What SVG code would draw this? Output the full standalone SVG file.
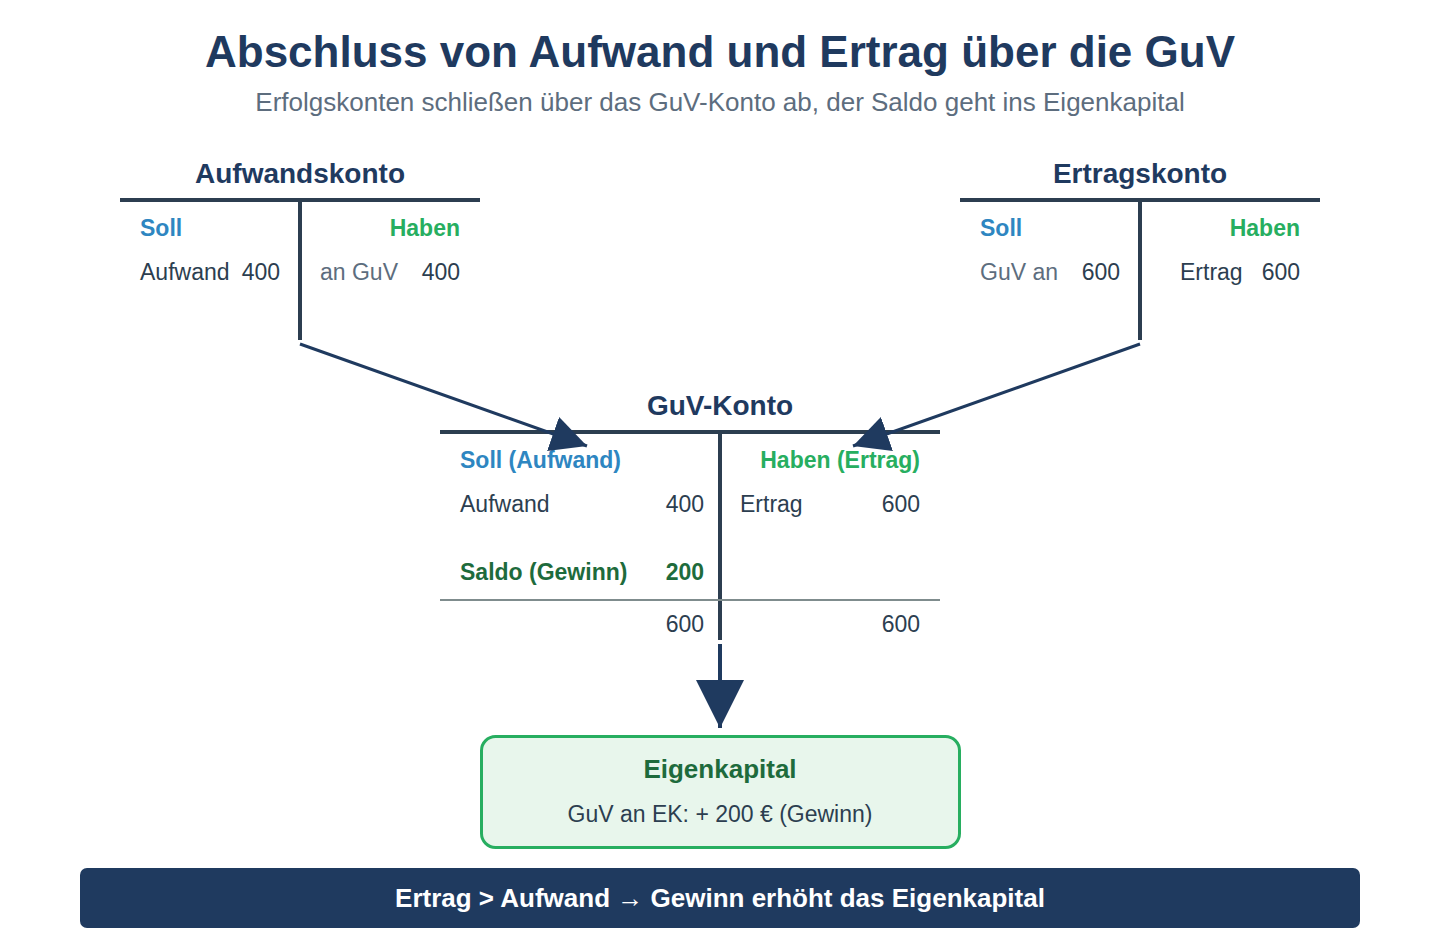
<svg xmlns="http://www.w3.org/2000/svg" width="1440" height="940" viewBox="0 0 1440 940">
<style>
text{font-family:"Liberation Sans",Arial,sans-serif}
.title{font-size:44px;font-weight:bold;fill:#1f3a5f;text-anchor:middle}
.sub{font-size:26px;fill:#5d6d7e;text-anchor:middle}
.acct{font-size:28px;font-weight:bold;fill:#1f3a5f;text-anchor:middle}
.tline{stroke:#2c3e50;stroke-width:4;fill:none}
.soll{font-size:23px;font-weight:bold;fill:#2e86c1}
.haben{font-size:23px;font-weight:bold;fill:#27ae60;text-anchor:end}
.v{font-size:23px;fill:#2c3e50}
.g{font-size:23px;fill:#5d6d7e}
.e{text-anchor:end}
.saldo{font-size:23px;font-weight:bold;fill:#1e6b3c}
.conn{stroke:#1f3a5f;stroke-width:3;fill:none;marker-end:url(#ah)}
</style>
<defs>
<marker id="ah" viewBox="0 0 10 10" refX="10" refY="5" markerWidth="12" markerHeight="12" markerUnits="strokeWidth" orient="auto">
<path d="M0,0 L10,5 L0,10 z" fill="#1f3a5f"/>
</marker>
</defs>
<rect width="1440" height="940" fill="#ffffff"/>
<text class="title" x="720" y="67">Abschluss von Aufwand und Ertrag über die GuV</text>
<text class="sub" x="720" y="111">Erfolgskonten schließen über das GuV-Konto ab, der Saldo geht ins Eigenkapital</text>

<g id="aufwandskonto">
<text class="acct" x="300" y="183">Aufwandskonto</text>
<line class="tline" x1="120" y1="200" x2="480" y2="200"/>
<line class="tline" x1="300" y1="200" x2="300" y2="340"/>
<text class="soll" x="140" y="236">Soll</text>
<text class="haben" x="460" y="236">Haben</text>
<text class="v" x="140" y="280">Aufwand</text>
<text class="v e" x="280" y="280">400</text>
<text class="g" x="320" y="280">an GuV</text>
<text class="v e" x="460" y="280">400</text>
</g>

<g id="ertragskonto">
<text class="acct" x="1140" y="183">Ertragskonto</text>
<line class="tline" x1="960" y1="200" x2="1320" y2="200"/>
<line class="tline" x1="1140" y1="200" x2="1140" y2="340"/>
<text class="soll" x="980" y="236">Soll</text>
<text class="haben" x="1300" y="236">Haben</text>
<text class="g" x="980" y="280">GuV an</text>
<text class="v e" x="1120" y="280">600</text>
<text class="v" x="1180" y="280">Ertrag</text>
<text class="v e" x="1300" y="280">600</text>
</g>

<g id="guv-konto">
<text class="acct" x="720" y="415">GuV-Konto</text>
<line class="tline" x1="440" y1="432" x2="940" y2="432"/>
<line class="tline" x1="720" y1="432" x2="720" y2="640"/>
<line x1="440" y1="600" x2="940" y2="600" stroke="#7f8c8d" stroke-width="2"/>
<text class="soll" x="460" y="468">Soll (Aufwand)</text>
<text class="haben" x="920" y="468">Haben (Ertrag)</text>
<text class="v" x="460" y="512">Aufwand</text>
<text class="v e" x="704" y="512">400</text>
<text class="v" x="740" y="512">Ertrag</text>
<text class="v e" x="920" y="512">600</text>
<text class="saldo" x="460" y="580">Saldo (Gewinn)</text>
<text class="saldo e" x="704" y="580">200</text>
<text class="v e" x="704" y="632">600</text>
<text class="v e" x="920" y="632">600</text>
</g>

<g id="eigenkapital">
<rect x="481.5" y="736.5" width="478" height="111" rx="14" fill="#e8f6ec" stroke="#27ae60" stroke-width="3"/>
<text x="720" y="778" font-size="26" font-weight="bold" fill="#1e6b3c" text-anchor="middle">Eigenkapital</text>
<text x="720" y="822" font-size="23" fill="#2c3e50" text-anchor="middle">GuV an EK: + 200 € (Gewinn)</text>
</g>

<g id="connectors">
<line class="conn" x1="300" y1="344" x2="587" y2="446"/>
<line class="conn" x1="1140" y1="344" x2="853" y2="446"/>
<line class="conn" x1="720" y1="644" x2="720" y2="728" style="stroke-width:4"/>
</g>

<g id="banner">
<rect x="80" y="868" width="1280" height="60" rx="7" fill="#1f3a5f"/>
<text x="720" y="907" font-size="26" font-weight="bold" fill="#ffffff" text-anchor="middle">Ertrag &gt; Aufwand → Gewinn erhöht das Eigenkapital</text>
</g>
</svg>
